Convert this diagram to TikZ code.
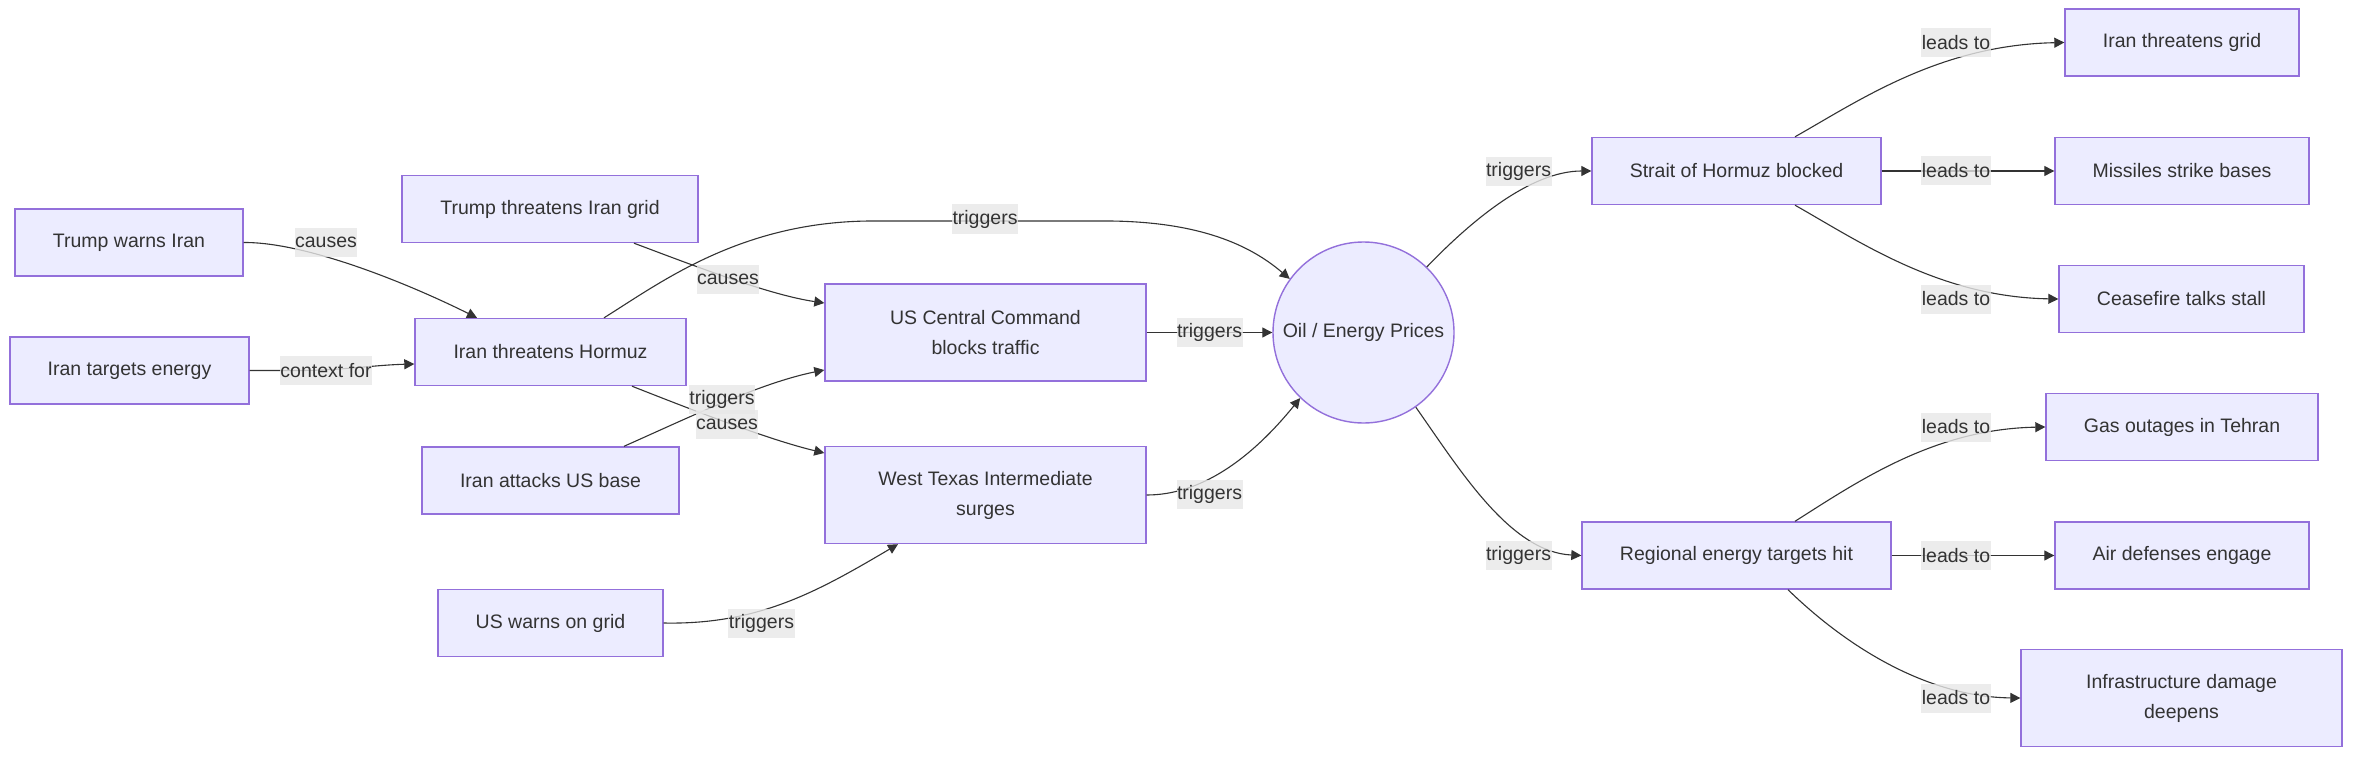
\documentclass[tikz,border=0pt]{standalone}
\usepackage{fontspec}
\setmainfont{Liberation Sans}
\usetikzlibrary{arrows.meta}
\definecolor{nodefill}{HTML}{ECECFF}
\definecolor{nodeborder}{HTML}{9370DB}
\definecolor{textc}{HTML}{333333}
\definecolor{edgec}{HTML}{333333}
\definecolor{lblgray}{HTML}{E8E8E8}
\tikzset{
  box/.style={draw=nodeborder, fill=nodefill, line width=1.4pt, minimum width=#1,
    minimum height=67pt, inner sep=0pt, text=textc, align=center},
  tallbox/.style={box=#1, minimum height=97pt},
  roundbox/.style={circle, draw=nodeborder, fill=nodefill, line width=1.4pt,
    minimum size=181pt, inner sep=0pt, text=textc},
  lbl/.style={fill=lblgray, fill opacity=0.8, text opacity=1, text=textc,
    inner xsep=0.5pt, inner ysep=0pt, minimum height=29pt},
  arr/.style={draw=edgec, line width=1.1pt, -{Triangle[length=10pt,width=10pt]}}
}
\begin{document}
\begin{tikzpicture}[x=1pt,y=-1pt,font=\fontsize{19.5}{30}\selectfont]
\useasboundingbox (0,0) rectangle (2368,762);
\fill[white] (0,0) rectangle (2368,762);
% nodes
\node[box=228pt] (tw) at (129,242.5) {Trump warns Iran};
\node[box=239pt] (ite) at (129.5,370.5) {Iran targets energy};
\node[box=296pt] (tg) at (550,209) {Trump threatens Iran grid};
\node[box=271pt] (ih) at (550.5,352) {Iran threatens Hormuz};
\node[box=257pt] (ia) at (550.5,480.5) {Iran attacks US base};
\node[box=225pt] (uw) at (550.5,623) {US warns on grid};
\node[tallbox=321pt] (uc) at (985.5,332.5) {US Central Command\\blocks traffic};
\node[tallbox=321pt] (wti) at (985.5,495) {West Texas Intermediate\\surges};
\node[roundbox] (oil) at (1363.5,332.5) {Oil / Energy Prices};
\node[box=289pt] (sh) at (1736.5,171) {Strait of Hormuz blocked};
\node[box=234pt] (itg) at (2182,42.5) {Iran threatens grid};
\node[box=254pt] (msb) at (2182,171) {Missiles strike bases};
\node[box=245pt] (cts) at (2181.5,299) {Ceasefire talks stall};
\node[box=309pt] (reg) at (1736.5,555.5) {Regional energy targets hit};
\node[box=272pt] (gas) at (2182,427) {Gas outages in Tehran};
\node[box=254pt] (air) at (2182,555.5) {Air defenses engage};
\node[tallbox=321pt] (inf) at (2181.5,698) {Infrastructure damage\\deepens};
% edges
\draw[arr] (tw.east) .. controls (305,242) and (405,282) .. ([xshift=-73.5pt]ih.north);
\draw[arr] (ite.east) -- (300,370.5) .. controls (340,370.5) and (375,365) .. ([yshift=-12pt]ih.west);
\draw[arr] ([xshift=84pt]tg.south) .. controls (700,268) and (770,295) .. ([yshift=29.5pt]uc.west);
\draw[arr] ([xshift=53.5pt]ih.north) .. controls (660,283) and (740,222) .. (870,221)
  -- (1110,221) .. controls (1200,222) and (1250,245) .. (oil.144);
\draw[arr] ([xshift=81.5pt]ih.south) .. controls (700,413) and (770,440) .. ([yshift=42pt]wti.west);
\draw[arr] ([xshift=73.5pt]ia.north) .. controls (690,417) and (760,383) .. ([yshift=-37.5pt]uc.west);
\draw[arr] (uw.east) .. controls (760,625) and (820,590) .. ([xshift=-87.5pt]wti.south);
\draw[arr] (uc.east) -- (oil.west);
\draw[arr] (wti.east) .. controls (1200,495) and (1250,460) .. (oil.226);
\draw[arr] (oil.46) .. controls (1470,222) and (1530,171) .. (sh.west);
\draw[arr] (oil.305) .. controls (1460,470) and (1510,552) .. (reg.west);
\draw[arr] ([xshift=58.5pt]sh.north) .. controls (1860,100) and (1940,45) .. (itg.west);
\draw[arr] (sh.east) -- (msb.west);
\draw[arr] ([xshift=58.5pt]sh.south) .. controls (1860,242) and (1940,297) .. (cts.west);
\draw[arr] ([xshift=58.5pt]reg.north) .. controls (1860,480) and (1935,429) .. (gas.west);
\draw[arr] (reg.east) -- (air.west);
\draw[arr] ([xshift=51.5pt]reg.south) .. controls (1850,650) and (1930,697) .. (inf.west);
% labels
\node[lbl] (l1) at (326,242.5) {causes};
\node[lbl] (l2) at (326,370.5) {context for};
\node[lbl] (l3) at (728,279.5) {causes};
\node[lbl] (l4) at (985,219) {triggers};
\node[lbl] (l6) at (722,399) {triggers};
\node[lbl] (l5) at (727,424.5) {causes};
\node[lbl] (l7) at (761.5,623) {triggers};
\node[lbl] (l8) at (1209.5,332.5) {triggers};
\node[lbl] (l9) at (1209.5,494.5) {triggers};
\node[lbl] (l10) at (1518.5,171.5) {triggers};
\node[lbl] (l11) at (1518.5,555.5) {triggers};
\node[lbl] (l12) at (1956,42.5) {leads to};
\node[lbl] (l13) at (1956,171) {leads to};
\node[lbl] (l14) at (1956,299) {leads to};
\node[lbl] (l15) at (1956,427) {leads to};
\node[lbl] (l16) at (1956,555.5) {leads to};
\node[lbl] (l17) at (1956,698) {leads to};
\end{tikzpicture}
\end{document}
